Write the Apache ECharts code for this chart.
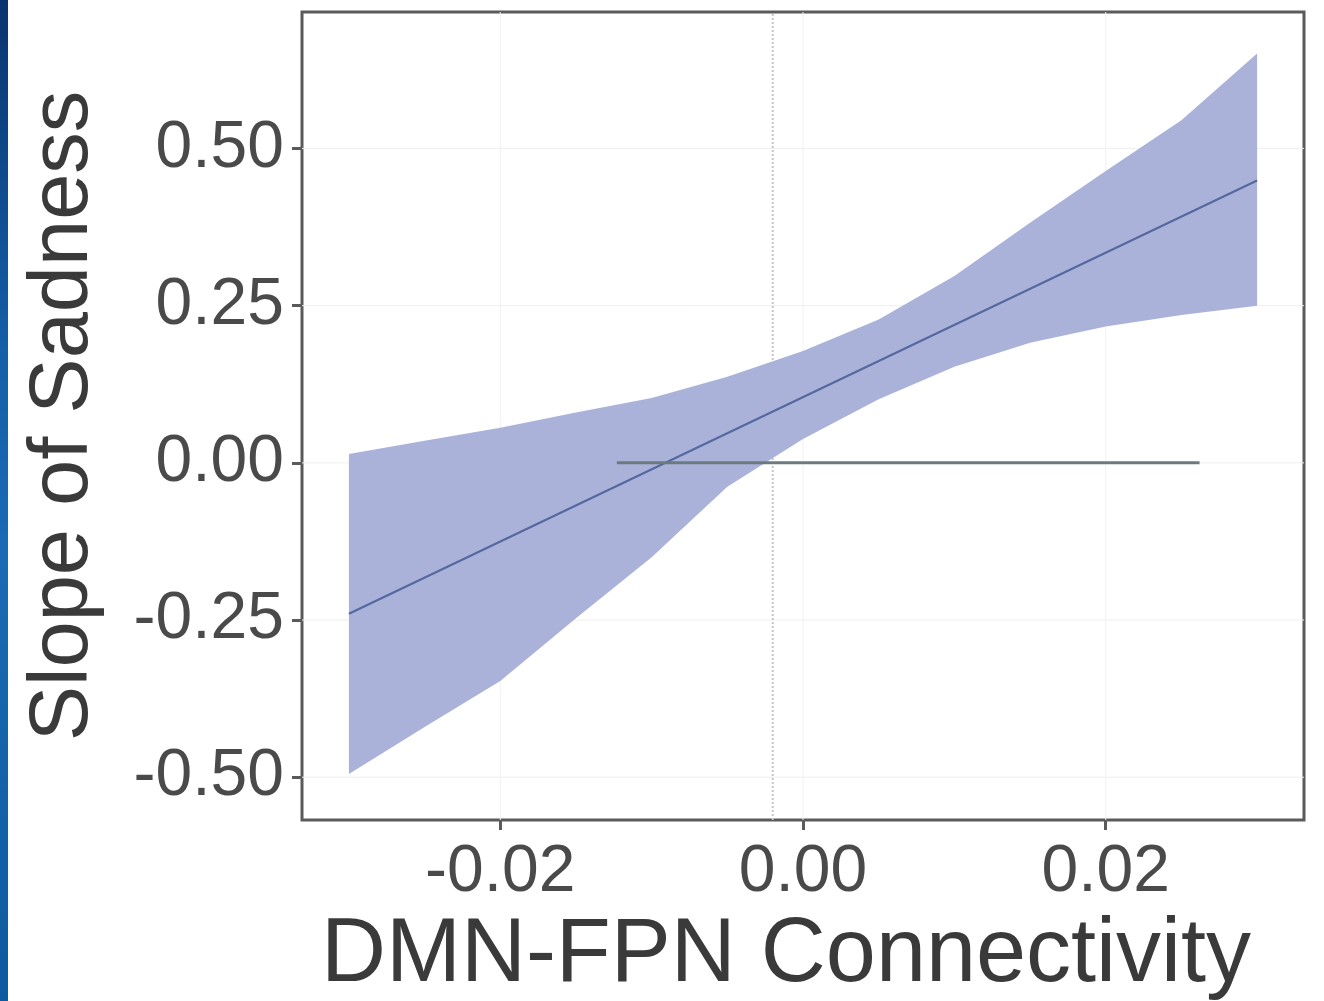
<!DOCTYPE html>
<html>
<head>
<meta charset="utf-8">
<script src="https://cdn.jsdelivr.net/npm/echarts@6/dist/echarts.min.js"></script>
<style>
  html, body { margin: 0; padding: 0; background: #fff; }
  #chart { width: 1324px; height: 1001px; }
</style>
</head>
<body>
<div id="chart"></div>
<script>
// x positions of the confidence band
const bandX = [-0.03, -0.025, -0.02, -0.015, -0.01, -0.005, 0, 0.005, 0.01, 0.015, 0.02, 0.025, 0.03];
// upper / lower band edges
const bandUpper = [0.014, 0.035, 0.056, 0.080, 0.103, 0.137, 0.178, 0.228, 0.297, 0.382, 0.464, 0.545, 0.651];
const bandLower = [-0.495, -0.420, -0.347, -0.247, -0.150, -0.038, 0.038, 0.101, 0.153, 0.191, 0.217, 0.235, 0.250];
// fitted slope line
const fitX = [-0.03, 0.03];
const fitY = [-0.240, 0.449];
// zero reference segment
const zeroX = [-0.0123, 0.0262];
const zeroY = [0, 0];
// dotted vertical reference
const refX = -0.002;
// tick labels
const xTicks = [-0.02, 0, 0.02];
const yTicks = [-0.5, -0.25, 0, 0.25, 0.5];
// panel limits
const xLim = [-0.0331, 0.0331];
const yLim = [-0.568, 0.717];

const chart = echarts.init(document.getElementById('chart'));

const fontFam = '"Liberation Sans", Arial, Helvetica, sans-serif';

// faint panel grid lines, one small line series each
let gridSeries = [];
yTicks.forEach(v => {
  gridSeries.push({
    type: 'line', silent: true, showSymbol: false, z: 1,
    data: [[xLim[0], v], [xLim[1], v]],
    lineStyle: { color: '#efefef', width: 1 }
  });
});
xTicks.forEach(v => {
  gridSeries.push({
    type: 'line', silent: true, showSymbol: false, z: 1,
    data: [[v, yLim[0]], [v, yLim[1]]],
    lineStyle: { color: '#f1f1f1', width: 1 }
  });
});
gridSeries.push({
  type: 'line', silent: true, showSymbol: false, z: 1,
  data: [[refX, yLim[0]], [refX, yLim[1]]],
  lineStyle: { color: '#c6c6c6', width: 2, type: 'dotted' }
});

let option = {
  backgroundColor: '#ffffff',
  animation: false,
  graphic: [
    {
      type: 'rect',
      left: 0, top: 0,
      shape: { width: 8, height: 1001 },
      style: {
        fill: new echarts.graphic.LinearGradient(0, 0, 0, 1, [
          { offset: 0, color: '#0a3470' },
          { offset: 0.35, color: '#145fa8' },
          { offset: 0.55, color: '#1a6bb4' },
          { offset: 1, color: '#0d5a9e' }
        ])
      },
      z: 100
    }
  ],
  grid: {
    left: 302, top: 12, right: 20, bottom: 181,
    outerBoundsMode: 'none',
    containLabel: false,
    show: true, borderColor: '#5a5a5a', borderWidth: 3,
    backgroundColor: '#ffffff'
  },
  xAxis: {
    type: 'value',
    min: xLim[0], max: xLim[1],
    name: 'DMN-FPN Connectivity',
    nameLocation: 'middle',
    nameGap: 90,
    nameTextStyle: { fontFamily: fontFam, fontSize: 90, color: '#3a3a3a', padding: [0, 34, 0, 0] },
    axisLine: { show: false, onZero: false },
    axisTick: { show: true, customValues: xTicks, length: 10, lineStyle: { color: '#5a5a5a', width: 3 } },
    axisLabel: {
      customValues: xTicks,
      fontFamily: fontFam, fontSize: 66, color: '#4a4a4a', margin: 20,
      formatter: v => v.toFixed(2)
    },
    splitLine: { show: false }
  },
  yAxis: {
    type: 'value',
    min: yLim[0], max: yLim[1],
    name: 'Slope of Sadness',
    nameLocation: 'middle',
    nameRotate: 90,
    nameGap: 196,
    nameTextStyle: { fontFamily: fontFam, fontSize: 83, color: '#3a3a3a' },
    axisLine: { show: false, onZero: false },
    axisTick: { show: true, customValues: yTicks, length: 10, lineStyle: { color: '#5a5a5a', width: 3 } },
    axisLabel: {
      customValues: yTicks,
      fontFamily: fontFam, fontSize: 66, color: '#4a4a4a', margin: 18,
      formatter: v => v.toFixed(2)
    },
    splitLine: { show: false }
  },
  series: gridSeries.concat([
    {
      name: 'band',
      type: 'custom',
      data: [0],
      silent: true,
      renderItem: function (params, api) {
        const pts = [];
        for (let i = 0; i < bandX.length; i++) pts.push(api.coord([bandX[i], bandUpper[i]]));
        for (let i = bandX.length - 1; i >= 0; i--) pts.push(api.coord([bandX[i], bandLower[i]]));
        return {
          type: 'polygon',
          shape: { points: pts },
          style: { fill: '#aab2da', stroke: null }
        };
      },
      z: 2
    },
    {
      name: 'fit',
      type: 'line',
      data: fitX.map((x, i) => [x, fitY[i]]),
      showSymbol: false,
      lineStyle: { color: '#55679e', width: 2 },
      z: 3
    },
    {
      name: 'zero',
      type: 'line',
      data: zeroX.map((x, i) => [x, zeroY[i]]),
      showSymbol: false,
      lineStyle: { color: '#6b7b7d', width: 3 },
      z: 4
    }
  ])
};

option && chart.setOption(option);
</script>
</body>
</html>
